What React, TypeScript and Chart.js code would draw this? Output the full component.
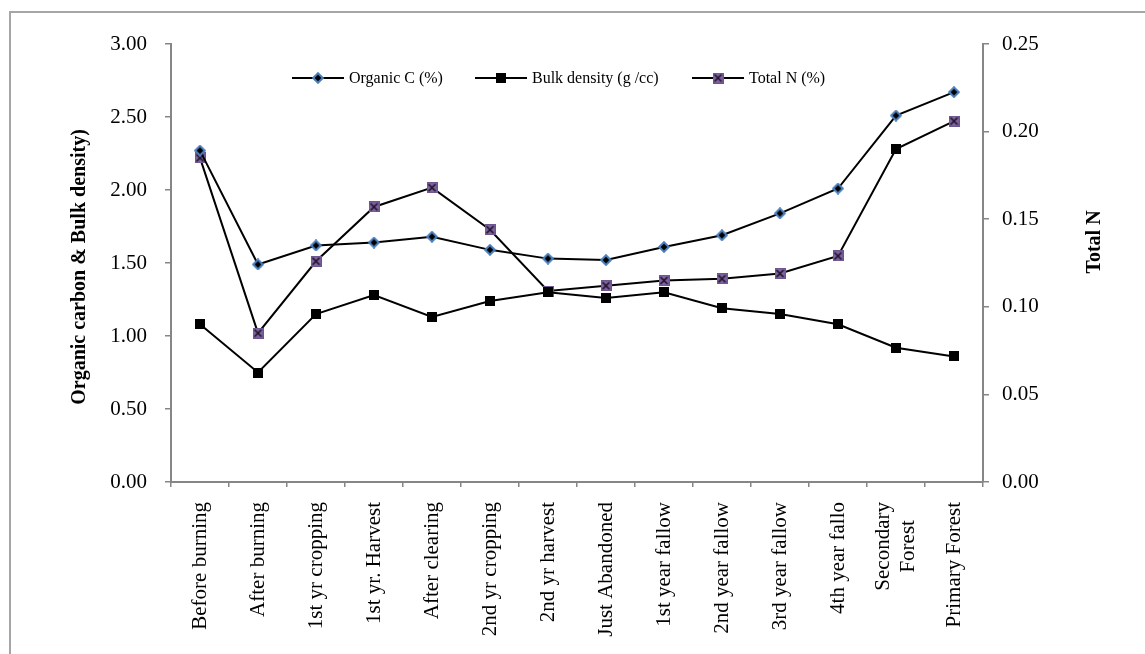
import React, { useEffect, useRef } from "react";
import { Chart, registerables } from "chart.js";

Chart.register(...registerables);

const categories: (string | string[])[] = [
  "Before burning",
  "After burning",
  "1st yr cropping",
  "1st yr. Harvest",
  "After clearing",
  "2nd yr cropping",
  "2nd yr harvest",
  "Just Abandoned",
  "1st year fallow",
  "2nd year fallow",
  "3rd year fallow",
  "4th year fallo",
  ["Secondary", "Forest"],
  "Primary Forest",
];

const organicC = [2.27, 1.49, 1.62, 1.64, 1.68, 1.59, 1.53, 1.52, 1.61, 1.69, 1.84, 2.01, 2.51, 2.67];
const bulkDensity = [1.08, 0.75, 1.15, 1.28, 1.13, 1.24, 1.3, 1.26, 1.3, 1.19, 1.15, 1.08, 0.92, 0.86];
const totalN = [0.185, 0.085, 0.126, 0.157, 0.168, 0.144, 0.109, 0.112, 0.115, 0.116, 0.119, 0.129, 0.19, 0.206];

const seriesNames = ["Organic C (%)", "Bulk density (g /cc)", "Total N (%)"];
const leftTicks = [0, 0.5, 1, 1.5, 2, 2.5, 3];
const rightTicks = [0, 0.05, 0.1, 0.15, 0.2, 0.25];
const leftTitle = "Organic carbon & Bulk density)";
const rightTitle = "Total N";
// index of the Total N point that Excel drew with a square marker
const squareMarkerIndexN = 12;

const FONT = '"Liberation Serif", "Times New Roman", serif';
const AXIS_GRAY = "#868686";
const TICK_SIZE = 21;

function makeDiamond(): HTMLCanvasElement {
  const c = document.createElement("canvas");
  c.width = 12;
  c.height = 12;
  const g = c.getContext("2d")!;
  g.beginPath();
  g.moveTo(6, 1.2);
  g.lineTo(10.8, 6);
  g.lineTo(6, 10.8);
  g.lineTo(1.2, 6);
  g.closePath();
  g.fillStyle = "#000";
  g.fill();
  g.lineWidth = 2;
  g.strokeStyle = "#4a7ebb";
  g.stroke();
  return c;
}

function makeSquare(): HTMLCanvasElement {
  const c = document.createElement("canvas");
  c.width = 10;
  c.height = 10;
  const g = c.getContext("2d")!;
  g.fillStyle = "#000";
  g.fillRect(0, 0, 10, 10);
  return c;
}

function makeXSquare(): HTMLCanvasElement {
  const c = document.createElement("canvas");
  c.width = 11;
  c.height = 11;
  const g = c.getContext("2d")!;
  g.fillStyle = "#8064a2";
  g.fillRect(0, 0, 11, 11);
  g.strokeStyle = "#1a1020";
  g.lineWidth = 1.6;
  g.beginPath();
  g.moveTo(2, 2);
  g.lineTo(9, 9);
  g.moveTo(9, 2);
  g.lineTo(2, 9);
  g.stroke();
  g.strokeStyle = "#6d5591";
  g.lineWidth = 1;
  g.strokeRect(0.5, 0.5, 10, 10);
  return c;
}

export default function App() {
  const canvasRef = useRef<HTMLCanvasElement | null>(null);

  useEffect(() => {
    const canvas = canvasRef.current;
    if (!canvas) return;
    const diamond = makeDiamond();
    const square = makeSquare();
    const xsquare = makeXSquare();
    const markers = [diamond, square, xsquare];
    const nStyles = totalN.map((_, i) => (i === squareMarkerIndexN ? square : xsquare));

    // centre the lines of multi-line (rotated) category labels, as Excel does
    const centerMultiline = {
      id: "centerMultiline",
      beforeDraw(chart: any) {
        const scale = chart.scales.x;
        if (!scale || !scale.getLabelItems) return;
        const items = scale.getLabelItems(chart.chartArea);
        const ctx = chart.ctx as CanvasRenderingContext2D;
        items.forEach((it: any) => {
          if (!Array.isArray(it.label) || it._centred) return;
          const o = it.options;
          ctx.save();
          ctx.font = it.font.string;
          const w = Math.max(...it.label.map((s: string) => ctx.measureText(s).width));
          ctx.restore();
          const lh = it.font.lineHeight;
          const shift = (lh * (it.label.length - 1)) / 2;
          o.translation = [o.translation[0] - shift, o.translation[1] + w / 2];
          o.textAlign = "center";
          it._centred = true;
        });
      },
    };

    const overlay = {
      id: "overlay",
      afterDraw(chart: any) {
        const ctx = chart.ctx as CanvasRenderingContext2D;
        const a = chart.chartArea;
        const midY = (a.top + a.bottom) / 2;
        ctx.save();
        ctx.fillStyle = "#000";
        ctx.font = `bold 20px ${FONT}`;
        ctx.textAlign = "center";
        ctx.textBaseline = "middle";
        // left title
        ctx.save();
        ctx.translate(a.left - 91, midY + 4);
        ctx.rotate(-Math.PI / 2);
        ctx.fillText(leftTitle, 0, 0);
        ctx.restore();
        // right title
        ctx.save();
        ctx.translate(a.right + 112, midY - 21);
        ctx.rotate(-Math.PI / 2);
        ctx.fillText(rightTitle, 0, 0);
        ctx.restore();

        // legend
        const starts = [292, 475, 692];
        const ly = 78;
        ctx.font = `16px ${FONT}`;
        ctx.textAlign = "left";
        for (let i = 0; i < 3; i++) {
          const x0 = starts[i];
          ctx.strokeStyle = "#000";
          ctx.lineWidth = 2;
          ctx.beginPath();
          ctx.moveTo(x0, ly);
          ctx.lineTo(x0 + 52, ly);
          ctx.stroke();
          const m = markers[i];
          ctx.drawImage(m, x0 + 26 - m.width / 2, ly - m.height / 2);
          ctx.fillStyle = "#000";
          ctx.fillText(seriesNames[i], x0 + 57, ly + 1);
        }
        ctx.restore();
      },
    };

    const chart = new Chart(canvas, {
      type: "line",
      data: {
        labels: categories as any,
        datasets: [
          {
            label: seriesNames[0],
            data: organicC,
            yAxisID: "y",
            borderColor: "#000",
            borderWidth: 2,
            pointStyle: diamond as any,
            pointRadius: 5,
            tension: 0,
          },
          {
            label: seriesNames[1],
            data: bulkDensity,
            yAxisID: "y",
            borderColor: "#000",
            borderWidth: 2,
            pointStyle: square as any,
            pointRadius: 5,
            tension: 0,
          },
          {
            label: seriesNames[2],
            data: totalN,
            yAxisID: "y1",
            borderColor: "#000",
            borderWidth: 2,
            pointStyle: nStyles as any,
            pointRadius: 5,
            tension: 0,
          },
        ],
      },
      options: {
        responsive: false,
        animation: false,
        layout: { padding: { top: 44, left: 0, right: 0, bottom: 0 } },
        plugins: {
          legend: { display: false },
          tooltip: { enabled: false },
        },
        scales: {
          x: {
            type: "category",
            offset: true,
            grid: {
              offset: true,
              drawOnChartArea: false,
              drawTicks: true,
              tickLength: 5,
              color: AXIS_GRAY,
              lineWidth: 1.5,
            },
            border: { display: true, color: AXIS_GRAY, width: 2 },
            ticks: {
              autoSkip: false,
              maxRotation: 90,
              minRotation: 90,
              padding: 15,
              color: "#000",
              font: { family: FONT, size: TICK_SIZE },
            },
            afterFit: (s: any) => {
              s.height = 172;
            },
          },
          y: {
            type: "linear",
            position: "left",
            min: 0,
            max: 3,
            afterBuildTicks: (s: any) => {
              s.ticks = leftTicks.map((v) => ({ value: v }));
            },
            grid: {
              drawOnChartArea: false,
              drawTicks: true,
              tickLength: 6,
              color: AXIS_GRAY,
              lineWidth: 1.5,
            },
            border: { display: true, color: AXIS_GRAY, width: 2 },
            ticks: {
              padding: 18,
              color: "#000",
              font: { family: FONT, size: TICK_SIZE },
              callback: (v: any) => Number(v).toFixed(2),
            },
            afterFit: (s: any) => {
              s.width = 171;
            },
          },
          y1: {
            type: "linear",
            position: "right",
            min: 0,
            max: 0.25,
            afterBuildTicks: (s: any) => {
              s.ticks = rightTicks.map((v) => ({ value: v }));
            },
            grid: {
              drawOnChartArea: false,
              drawTicks: true,
              tickLength: 6,
              color: AXIS_GRAY,
              lineWidth: 1.5,
            },
            border: { display: true, color: AXIS_GRAY, width: 2 },
            ticks: {
              padding: 13,
              color: "#000",
              font: { family: FONT, size: TICK_SIZE },
              callback: (v: any) => Number(v).toFixed(2),
            },
            afterFit: (s: any) => {
              s.width = 162;
            },
          },
        },
      },
      plugins: [centerMultiline, overlay],
    });

    return () => chart.destroy();
  }, []);

  return (
    <div
      style={{
        position: "absolute",
        left: 0,
        top: 0,
        width: 1145,
        height: 654,
        overflow: "hidden",
        background: "#fff",
      }}
    >
      <div
        style={{
          position: "absolute",
          left: 9,
          top: 11,
          width: 1200,
          height: 700,
          border: "2px solid #a6a6a6",
        }}
      />
      <canvas
        ref={canvasRef}
        width={1145}
        height={654}
        style={{ position: "absolute", left: 0, top: 0, width: 1145, height: 654 }}
      />
    </div>
  );
}
